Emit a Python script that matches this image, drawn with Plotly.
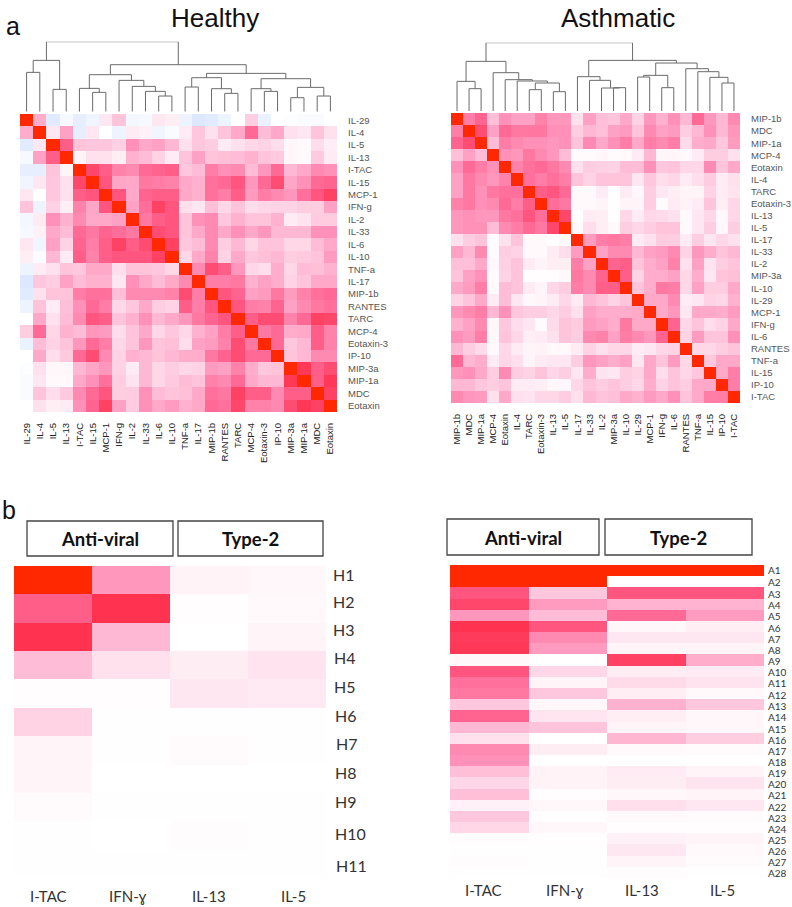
import plotly.graph_objects as go

W, H = 792, 907

healthy_labels = ["IL-29","IL-4","IL-5","IL-13","I-TAC","IL-15","MCP-1","IFN-g","IL-2","IL-33","IL-6","IL-10","TNF-a","IL-17","MIP-1b","RANTES","TARC","MCP-4","Eotaxin-3","IP-10","MIP-3a","MIP-1a","MDC","Eotaxin"]
asthma_labels = ["MIP-1b","MDC","MIP-1a","MCP-4","Eotaxin","IL-4","TARC","Eotaxin-3","IL-13","IL-5","IL-17","IL-33","IL-2","MIP-3a","IL-10","IL-29","MCP-1","IFN-g","IL-6","RANTES","TNF-a","IL-15","IP-10","I-TAC"]

healthy_corr = [
[1,.4,-.1,-.03,-.08,-.05,.12,.3,-.04,-.03,.12,.08,-.06,-.12,-.1,-.06,0,.25,-.07,0,-.01,-.02,-.02,0],
[.4,1,.12,.45,-.08,.12,0,-.06,.1,.07,-.05,-.02,.1,.28,.15,.3,.42,.68,.33,.42,.15,.12,.3,.15],
[-.1,.12,1,.72,.3,.28,.28,.23,.52,.42,.45,.35,.15,.28,.25,.1,.15,.2,.22,.17,.04,.03,.17,.08],
[-.03,.45,.72,1,.05,.15,.15,.08,.38,.33,.22,.1,.3,.45,.3,.32,.33,.38,.3,.27,.04,.03,.27,.1],
[-.08,-.08,.3,.05,1,.8,.72,.58,.55,.68,.7,.72,.28,.33,.6,.52,.55,.33,.5,.68,.35,.42,.55,.52],
[-.05,.12,.28,.15,.8,1,.75,.43,.42,.62,.6,.58,.42,.38,.65,.68,.75,.5,.68,.78,.43,.52,.68,.7],
[.12,0,.28,.15,.72,.75,1,.75,.42,.7,.72,.72,.42,.38,.65,.6,.72,.48,.6,.55,.5,.65,.75,.82],
[.3,-.06,.23,.08,.58,.43,.75,1,.45,.66,.82,.75,.16,.12,.32,.2,.3,.17,.2,.22,.22,.25,.25,.45],
[-.04,.1,.52,.38,.55,.42,.42,.45,1,.62,.72,.75,.3,.52,.55,.28,.38,.3,.3,.38,.1,.14,.26,.26],
[-.03,.07,.42,.33,.68,.62,.7,.66,.62,1,.78,.75,.3,.42,.55,.42,.52,.42,.5,.35,.35,.35,.52,.52],
[.12,-.05,.45,.22,.7,.6,.72,.82,.72,.78,1,.82,.28,.33,.55,.25,.35,.2,.3,.3,.2,.2,.33,.42],
[.08,-.02,.35,.1,.72,.58,.72,.75,.75,.75,.82,1,.2,.42,.58,.22,.42,.28,.32,.35,.25,.27,.3,.48],
[-.06,.1,.15,.3,.28,.42,.42,.16,.3,.3,.28,.2,1,.55,.78,.72,.5,.2,.17,.4,.2,.33,.32,.38],
[-.12,.28,.25,.45,.33,.38,.38,.12,.52,.42,.33,.42,.55,1,.6,.6,.62,.38,.45,.4,.22,.3,.42,.42],
[-.1,.15,.3,.3,.6,.65,.65,.32,.55,.55,.55,.58,.78,.6,1,.75,.7,.45,.48,.62,.48,.58,.65,.68],
[-.06,.3,.1,.32,.52,.68,.6,.2,.28,.42,.25,.22,.72,.6,.75,1,.75,.6,.58,.7,.45,.55,.62,.65],
[0,.42,.15,.33,.55,.75,.72,.3,.38,.52,.35,.42,.5,.62,.7,.75,1,.72,.78,.78,.58,.68,.82,.8],
[.25,.68,.2,.38,.33,.5,.48,.17,.3,.42,.2,.28,.2,.38,.45,.6,.72,1,.62,.68,.4,.42,.72,.58],
[-.07,.33,.22,.3,.5,.68,.6,.2,.3,.5,.3,.32,.17,.45,.48,.58,.78,.62,1,.68,.28,.35,.72,.58],
[0,.42,.17,.27,.68,.78,.55,.22,.38,.35,.3,.35,.4,.4,.62,.7,.78,.68,.68,1,.3,.35,.55,.55],
[-.01,.15,.04,.04,.35,.43,.5,.22,.1,.35,.2,.25,.2,.22,.48,.45,.58,.4,.28,.3,1,.85,.72,.78],
[-.02,.12,.03,.03,.42,.52,.65,.25,.14,.35,.2,.27,.33,.3,.58,.55,.68,.42,.35,.35,.85,1,.72,.85],
[-.02,.3,.17,.27,.55,.68,.75,.25,.26,.52,.33,.3,.32,.42,.65,.62,.82,.72,.72,.55,.72,.72,1,.82],
[0,.15,.08,.1,.52,.7,.82,.45,.26,.52,.42,.48,.38,.42,.68,.65,.8,.58,.58,.55,.78,.85,.82,1],
]

asthma_corr = [
[1,.6,.7,.32,.52,.45,.45,.58,.5,.5,.15,.45,.32,.3,.42,.22,.5,.38,.52,.35,.68,.5,.35,.55],
[.6,1,.78,.45,.68,.62,.62,.62,.52,.52,.25,.35,.32,.45,.48,.3,.55,.45,.48,.25,.35,.52,.35,.5],
[.7,.78,1,.33,.6,.55,.52,.52,.5,.52,.3,.55,.42,.52,.6,.42,.6,.55,.6,.18,.4,.42,.28,.48],
[.32,.45,.33,1,.52,.5,.62,.55,.5,.33,.02,.02,.04,.02,.03,.1,.35,.04,.04,.03,.1,.25,.25,.15],
[.52,.68,.6,.52,1,.58,.65,.68,.62,.55,.15,.25,.24,.22,.33,.33,.52,.28,.3,.2,.2,.55,.3,.42],
[.45,.62,.55,.5,.58,1,.65,.6,.65,.6,.3,.22,.3,.3,.3,.12,.28,.17,.2,.1,.16,.26,.1,.15],
[.45,.62,.52,.62,.65,.65,1,.72,.75,.68,.03,.03,.1,.01,.1,.04,.25,.12,.08,.05,.05,.22,.1,.14],
[.58,.62,.52,.55,.68,.6,.72,1,.66,.62,.03,.03,.05,.01,.05,.05,.25,.02,.1,.06,.1,.3,.08,.2],
[.5,.52,.5,.5,.62,.65,.75,.66,1,.8,.01,.1,.08,.01,.2,.1,.2,.18,.15,.03,.12,.2,.04,.2],
[.5,.52,.52,.33,.55,.6,.68,.62,.8,1,.03,.17,.08,.03,.25,.2,.25,.3,.3,.03,.12,.25,.04,.25],
[.15,.25,.3,.02,.15,.3,.03,.03,.01,.03,1,.48,.6,.62,.6,.1,.15,.26,.25,.1,.25,.12,.2,.15],
[.45,.35,.55,.02,.25,.22,.03,.03,.1,.17,.48,1,.45,.55,.55,.35,.45,.48,.55,.22,.5,.4,.3,.35],
[.32,.32,.42,.04,.24,.3,.1,.05,.08,.08,.6,.45,1,.7,.72,.3,.4,.45,.58,.15,.45,.14,.25,.3],
[.3,.45,.52,.02,.22,.3,.01,.01,.01,.03,.62,.55,.7,1,.72,.22,.4,.4,.45,.2,.4,.12,.3,.32],
[.42,.48,.6,.03,.33,.3,.1,.05,.2,.25,.6,.55,.72,.72,1,.3,.4,.62,.6,.2,.45,.25,.25,.42],
[.22,.3,.42,.1,.33,.12,.04,.05,.1,.2,.1,.35,.3,.22,.3,1,.42,.42,.55,.1,.12,.22,.2,.38],
[.5,.55,.6,.35,.52,.28,.25,.25,.2,.25,.15,.45,.4,.4,.4,.42,1,.42,.5,.12,.42,.42,.4,.48],
[.38,.45,.55,.04,.28,.17,.12,.02,.18,.3,.26,.48,.45,.4,.62,.42,.42,1,.7,.2,.3,.17,.22,.42],
[.52,.48,.6,.04,.3,.2,.08,.1,.15,.3,.25,.55,.58,.45,.6,.55,.5,.7,1,.22,.48,.3,.3,.52],
[.35,.25,.18,.03,.2,.1,.05,.06,.03,.03,.1,.22,.15,.2,.2,.1,.12,.2,.22,1,.2,.2,.25,.3],
[.68,.35,.4,.1,.2,.16,.05,.1,.12,.12,.25,.5,.45,.4,.45,.12,.42,.3,.48,.2,1,.28,.42,.42],
[.5,.52,.42,.25,.55,.26,.22,.3,.2,.25,.12,.4,.14,.12,.25,.22,.42,.17,.3,.2,.28,1,.42,.6],
[.35,.35,.28,.25,.3,.1,.1,.08,.04,.04,.2,.3,.25,.3,.25,.2,.4,.22,.3,.25,.42,.42,1,.6],
[.55,.5,.48,.15,.42,.15,.14,.2,.2,.25,.15,.35,.3,.32,.42,.38,.48,.42,.52,.3,.42,.6,.6,1],
]

# merges: (left node, right node, height). Nodes below 24 are leaves; 24+k is merge k.
healthy_merges = [
(0,1,118),(2,3,67),(24,25,154),
(5,6,58),(4,27,70),
(10,11,47),(9,29,61),(8,30,76),(7,31,94),
(28,32,111),
(12,13,74),(15,16,55),(14,35,69),(34,36,102),
(18,19,61),(17,38,69),
(20,21,42),(22,23,47),(40,41,73),(39,42,99),
(37,43,115),(33,44,141),(26,45,210),
]
asthma_merges = [
(1,2,67),(0,24,89),
(6,7,64),(8,9,58),(26,27,84),(5,28,90),(4,29,94),(3,30,115),(25,31,149),
(13,14,70),(12,33,69),(11,34,92),(10,35,103),
(15,16,102),(17,18,70),(37,38,107),
(22,23,84),(21,40,101),(20,41,118),(19,42,127),
(39,43,144),(36,44,152),(32,45,205),
]

panel_cols = ["I-TAC", "IFN-ɣ", "IL-13", "IL-5"]
h_rows = ["H1","H2","H3","H4","H5","H6","H7","H8","H9","H10","H11"]
h_vals = [
[1,.5,.06,.04],[.72,.87,.01,.03],[.87,.35,0,.05],[.33,.15,.09,.14],[.01,.01,.12,.11],
[.22,.005,.005,.005],[.05,.005,.025,.005],[.05,0,0,0],[.02,.005,.005,.005],
[.005,0,.015,.005],[.005,.005,.005,.005],
]
a_rows = ["A%d" % i for i in range(1, 29)]
a_vals = [
[1,1,1,1],[1,1,0,0],[.75,.28,.75,.75],[.8,.48,.37,.37],[.5,.33,.68,.48],[.87,.75,.04,.08],
[.84,.55,.12,.12],[.85,.48,.05,.05],[.04,0,.82,.4],[.75,.2,.09,.1],[.65,.05,.18,.14],
[.62,.28,.08,.03],[.28,.04,.38,.28],[.7,.13,.08,.04],[.35,.3,.05,.04],[.15,0,.36,.25],
[.55,.09,.03,.02],[.52,0,0,0],[.32,.06,.1,.05],[.2,.06,.09,.14],[.32,.01,.04,.05],
[.07,.04,.16,.12],[.28,.01,.03,.02],[.2,.04,.01,.01],[.015,.01,.07,.05],[.005,.005,.12,.03],
[.015,.005,.05,.02],[.005,.005,.015,.005],
]

ZMIN, ZMAX = -0.2, 1.0
stops = [(-.2,(205,220,255)),(-.1,(225,235,255)),(0,(255,255,255)),(.1,(255,235,243)),
         (.3,(255,195,218)),(.5,(255,150,188)),(.7,(255,100,145)),(.87,(255,50,80)),
         (.93,(255,48,70)),(1,(255,40,0))]
cscale = [[(v-ZMIN)/(ZMAX-ZMIN), "rgb(%d,%d,%d)" % c] for v, c in stops]

def xd(a, b): return [a/W, b/W]
def yd(top, bottom): return [1-bottom/H, 1-top/H]

fig = go.Figure()

def heat(i, z, x0, x1, y0, y1, xl=None, yl=None):
    n, m = len(z), len(z[0])
    fig.add_trace(go.Heatmap(z=z, x=list(range(m)), y=list(range(n)), xaxis=f"x{i}", yaxis=f"y{i}",
                             colorscale=cscale, zmin=ZMIN, zmax=ZMAX, showscale=False, hoverinfo="skip"))
    xa = dict(domain=xd(x0, x1), range=[-.5, m-.5], anchor=f"y{i}", showgrid=False, zeroline=False,
              showline=False, ticks="")
    ya = dict(domain=yd(y0, y1), range=[n-.5, -.5], anchor=f"x{i}", showgrid=False, zeroline=False,
              showline=False, ticks="", side="right")
    if xl:
        xa.update(tickmode="array", tickvals=list(range(m)), ticktext=xl, tickangle=-90,
                  tickfont=dict(family="Liberation Sans", size=9.5, color="#222"), ticklabelstandoff=8)
    else:
        xa.update(showticklabels=False)
    if yl:
        ya.update(tickmode="array", tickvals=list(range(n)), ticktext=yl,
                  tickfont=dict(family="Liberation Sans", size=9.5, color="#555"), ticklabelstandoff=10)
    else:
        ya.update(showticklabels=False)
    fig.update_layout(**{f"xaxis{i}": xa, f"yaxis{i}": ya})

def dendro(i, merges, x0, x1, y0, y1, top):
    pos = {k: k for k in range(24)}
    ht = {k: 0 for k in range(24)}
    xs, ys = [], []
    for k, (a, b, h) in enumerate(merges):
        xs += [pos[a], pos[a], pos[b], pos[b], None]
        ys += [ht[a], h, h, ht[b], None]
        pos[24+k] = (pos[a]+pos[b])/2
        ht[24+k] = h
    fig.add_trace(go.Scatter(x=xs, y=ys, mode="lines", xaxis=f"x{i}", yaxis=f"y{i}",
                             line=dict(color="#6b6b6b", width=1), hoverinfo="skip", showlegend=False))
    fig.update_layout(**{
        f"xaxis{i}": dict(domain=xd(x0, x1), range=[-.5, 23.5], visible=False, anchor=f"y{i}"),
        f"yaxis{i}": dict(domain=yd(y0, y1), range=[0, top], visible=False, anchor=f"x{i}"),
    })

heat(1, healthy_corr, 20, 337, 114, 412, healthy_labels, healthy_labels)
heat(2, asthma_corr, 451, 740, 113, 403, asthma_labels, asthma_labels)
heat(3, h_vals, 14, 326, 566, 878)
heat(4, a_vals, 450, 764, 565, 878)
dendro(5, healthy_merges, 20, 337, 41.7, 111.7, 210)
dendro(6, asthma_merges, 451, 740, 42.7, 111, 205)

annots = []
def txt(s, x, y, size, family="Lato", color="#222", xa="center", bold=False):
    annots.append(dict(text=f"<b>{s}</b>" if bold else s, x=x/W, y=1-y/H, xref="paper", yref="paper",
                       xanchor=xa, yanchor="middle", showarrow=False, borderpad=0,
                       font=dict(family=family, size=size, color=color)))

txt("Healthy", 215, 18, 26, "Liberation Sans", "#111")
txt("Asthmatic", 618, 18, 26, "Liberation Sans", "#111")
txt("a", 13, 26, 25, "Liberation Sans", "#111")
txt("b", 9, 510, 25, "Liberation Sans", "#111")

for s, x in zip(panel_cols, [48, 128, 209, 293]):
    txt(s, x, 896, 15, color="#333")
for s, x in zip(panel_cols, [483, 565, 642, 722]):
    txt(s, x, 890, 15, color="#333")
for s, y, x in zip(h_rows, [574,601,629,657,686,715,743,772,801,833,865],
                   [332,332,332,333,333,334,335,334,334,334,335]):
    txt(s, x, y, 16, color="#333", xa="left")
a_row_y = [570,582,594,605,616,628,639,650,661,672,683,695,706,717,729,740,751,762,773,784,795,807,818,829,840,851,862,873]
for s, y in zip(a_rows, a_row_y):
    txt(s, 767, y, 10, color="#333", xa="left")

shapes = []
for x0, x1, y0, y1, s in [(27,173,521,556,"Anti-viral"),(178,323,521,556,"Type-2"),
                          (447,599,519,555,"Anti-viral"),(605,752,519,555,"Type-2")]:
    shapes.append(dict(type="rect", xref="paper", yref="paper", x0=x0/W, x1=x1/W, y0=1-y0/H, y1=1-y1/H,
                       line=dict(color="#444", width=1.3), fillcolor="rgba(0,0,0,0)"))
    txt(s, (x0+x1)/2, (y0+y1)/2+0.5, 18.5, color="#111", bold=True)

fig.update_layout(width=W, height=H, margin=dict(l=0, r=0, t=0, b=0), paper_bgcolor="white",
                  plot_bgcolor="white", showlegend=False, annotations=annots, shapes=shapes)

fig.write_html("out.html", post_script="document.body.style.margin='0';", config=dict(displayModeBar=False))
